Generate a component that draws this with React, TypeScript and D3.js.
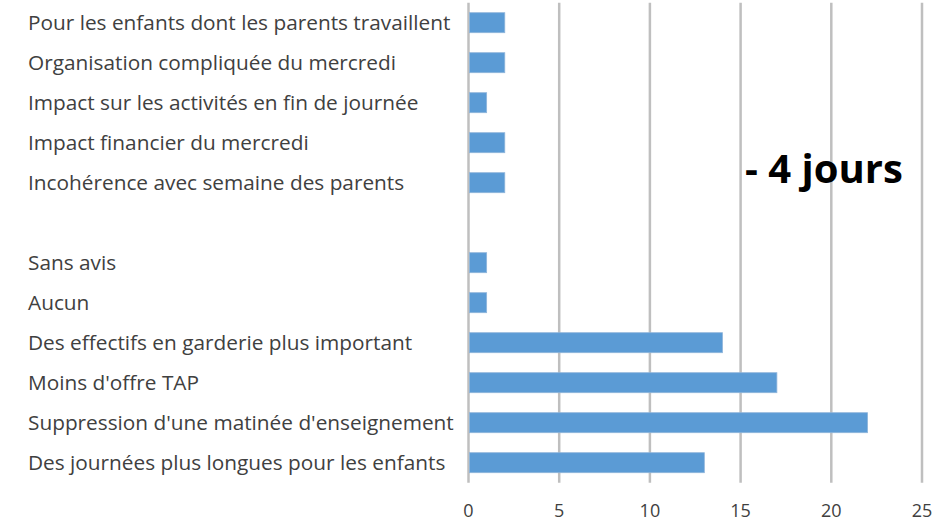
import React from "react";
import * as d3 from "d3";

const categories = [
  "Pour les enfants dont les parents travaillent",
  "Organisation compliquée du mercredi",
  "Impact sur les activités en fin de journée",
  "Impact financier du mercredi",
  "Incohérence avec semaine des parents",
  "",
  "Sans avis",
  "Aucun",
  "Des effectifs en garderie plus important",
  "Moins d'offre TAP",
  "Suppression d'une matinée d'enseignement",
  "Des journées plus longues pour les enfants",
];
const values: (number | null)[] = [2, 2, 1, 2, 2, null, 1, 1, 14, 17, 22, 13];
const ticks = [0, 5, 10, 15, 20, 25];
const annotation = "- 4 jours";

const W = 938;
const H = 523;
const left = 468.5;
const right = 922;
const top = 2.7;
const bottom = 482.7;

export default function App() {
  const x = d3.scaleLinear().domain([0, 25]).range([left, right]);
  const y = d3
    .scaleBand<number>()
    .domain(d3.range(categories.length))
    .range([top, bottom])
    .paddingInner(0.5)
    .paddingOuter(0.25);
  const font = "'Open Sans', 'Noto Sans', sans-serif";
  return (
    <svg
      width={W}
      height={H}
      style={{ position: "absolute", left: 0, top: 0, background: "#fff" }}
    >
      {ticks.map((t) => (
        <line
          key={"g" + t}
          x1={x(t)}
          x2={x(t)}
          y1={top}
          y2={bottom}
          stroke="#BFBFBF"
          strokeWidth={2.5}
        />
      ))}
      {values.map((v, i) =>
        v == null ? null : (
          <rect
            key={"b" + i}
            x={x(0) + 1}
            y={y(i)!}
            width={x(v) - x(0) - 1}
            height={y.bandwidth()}
            fill="#5B9BD5"
            stroke="#8FB5DA"
            strokeWidth={0.8}
          />
        )
      )}
      {categories.map((c, i) => (
        <text
          key={"l" + i}
          x={28}
          y={y(i)! + y.bandwidth() / 2 + 7.3}
          fontFamily={font}
          fontSize={20.8}
          fill="#404040"
        >
          {c}
        </text>
      ))}
      {ticks.map((t) => (
        <text
          key={"t" + t}
          x={x(t)}
          y={516.5}
          textAnchor="middle"
          fontFamily={font}
          fontSize={18}
          fill="#404040"
        >
          {t}
        </text>
      ))}
      <text
        x={745}
        y={183}
        fontFamily={font}
        fontWeight="bold"
        fontSize={40}
        fill="#000"
      >
        {annotation}
      </text>
    </svg>
  );
}
